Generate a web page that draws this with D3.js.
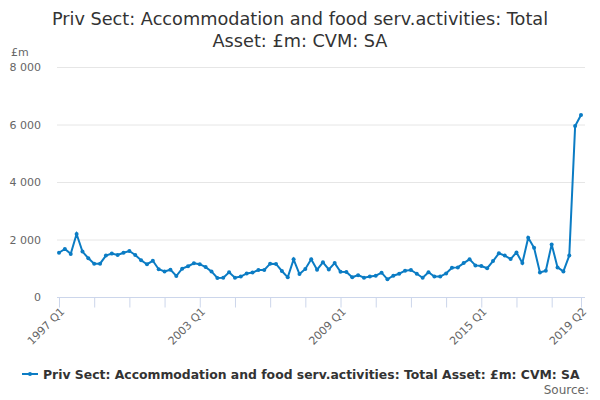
<!DOCTYPE html>
<html>
<head>
<meta charset="utf-8">
<script src="https://cdn.jsdelivr.net/npm/d3@7"></script>
<style>
  body { margin: 0; background: #fff; }
  svg { font-family: "DejaVu Sans", sans-serif; }
</style>
</head>
<body>
<svg id="chart" width="600" height="400"></svg>
<script>
// quarterly, 1997 Q1 .. 2019 Q2
const startYear = 1997;
const values = [
  1540, 1670, 1500, 2190, 1580, 1350, 1160, 1160, 1440, 1510,
  1460, 1540, 1600, 1460, 1280, 1140, 1260, 965, 890, 950,
  730, 985, 1070, 1170, 1140, 1040, 890, 660, 670, 860,
  670, 710, 820, 850, 940, 940, 1160, 1150, 905, 685,
  1310, 800, 975, 1310, 950, 1205, 960, 1180, 880, 870,
  685, 760, 670, 710, 740, 845, 615, 740, 810, 915,
  940, 810, 670, 860, 710, 710, 820, 1020, 1030, 1180,
  1310, 1100, 1080, 1000, 1250, 1520, 1440, 1320, 1550, 1180,
  2060, 1710, 850, 915, 1830, 1030, 890, 1440, 5950, 6330
];
const quarters = values.map((v, i) => `${startYear + Math.floor(i / 4)} Q${i % 4 + 1}`);
const yTicks = [0, 2000, 4000, 6000, 8000];
const labelled = ['1997 Q1', '2003 Q1', '2009 Q1', '2015 Q1', '2019 Q2'];

const title = ['Priv Sect: Accommodation and food serv.activities: Total', 'Asset: £m: CVM: SA'];
const seriesName = 'Priv Sect: Accommodation and food serv.activities: Total Asset: £m: CVM: SA';
const blue = '#0b7cc4';

const svg = d3.select('#chart');

const x = d3.scaleLinear().domain([0, values.length - 1]).range([59, 581]);
const y = d3.scaleLinear().domain([0, 8000]).range([297, 67]);

// title
svg.append('text')
  .attr('x', 300).attr('y', 25)
  .attr('text-anchor', 'middle')
  .style('font-size', '17.7px').style('fill', '#333')
  .selectAll('tspan')
  .data(title)
  .enter()
  .append('tspan')
  .attr('x', 300)
  .attr('dy', (d, i) => i ? 22 : 0)
  .text(d => d);

svg.append('text')
  .attr('x', 11).attr('y', 56)
  .style('font-size', '11px').style('fill', '#666')
  .text('£m');

// grid + y labels
const fmt = v => d3.format(',')(v).replace(/,/g, ' ');
svg.append('g')
  .selectAll('line')
  .data(yTicks.filter(d => d > 0))
  .enter()
  .append('line')
  .attr('x1', 57).attr('x2', 585)
  .attr('y1', d => y(d) + 0.5).attr('y2', d => y(d) + 0.5)
  .style('stroke', '#e6e6e6');

svg.append('g')
  .selectAll('text')
  .data(yTicks)
  .enter()
  .append('text')
  .attr('x', 41)
  .attr('y', d => y(d) + 4)
  .attr('text-anchor', 'end')
  .style('font-size', '11px').style('fill', '#666')
  .text(fmt);

// x axis
const tickIdx = d3.range(0, values.length, 6).concat([values.length - 1]);
const xAxis = d3.axisBottom(x)
  .tickValues(tickIdx)
  .tickSize(10)
  .tickFormat(i => labelled.includes(quarters[i]) ? quarters[i] : '');

const gx = svg.append('g')
  .attr('transform', 'translate(0, 297.5)')
  .call(xAxis);
gx.select('.domain').attr('d', 'M57,0H585').style('stroke', '#ccd6eb');
gx.selectAll('.tick line').style('stroke', '#ccd6eb');
gx.selectAll('.tick text')
  .attr('transform', 'translate(3, 12) rotate(-45)')
  .attr('text-anchor', 'end')
  .attr('dy', '0.35em')
  .attr('y', 0).attr('x', 0)
  .style('font-family', '"DejaVu Sans", sans-serif')
  .style('font-size', '11px').style('fill', '#666');

// series
const line = d3.line().x((d, i) => x(i)).y(d => y(d));
svg.append('path')
  .datum(values)
  .attr('d', line)
  .style('fill', 'none')
  .style('stroke', blue)
  .style('stroke-width', 2);

svg.append('g')
  .selectAll('circle')
  .data(values)
  .enter()
  .append('circle')
  .attr('cx', (d, i) => x(i))
  .attr('cy', d => y(d))
  .attr('r', 2)
  .style('fill', blue);

// legend
const lg = svg.append('g').attr('transform', 'translate(22, 374)');
lg.append('line').attr('x1', 0).attr('x2', 16).attr('y1', 0).attr('y2', 0)
  .style('stroke', blue).style('stroke-width', 2);
lg.append('circle').attr('cx', 8).attr('cy', 0).attr('r', 2).style('fill', blue);
lg.append('text')
  .attr('x', 21).attr('y', 4.5)
  .style('font-size', '12.4px').style('font-weight', 'bold').style('fill', '#333')
  .text(seriesName);

svg.append('text')
  .attr('x', 589).attr('y', 394)
  .attr('text-anchor', 'end')
  .style('font-size', '12px').style('fill', '#666')
  .text('Source:');
</script>
</body>
</html>
